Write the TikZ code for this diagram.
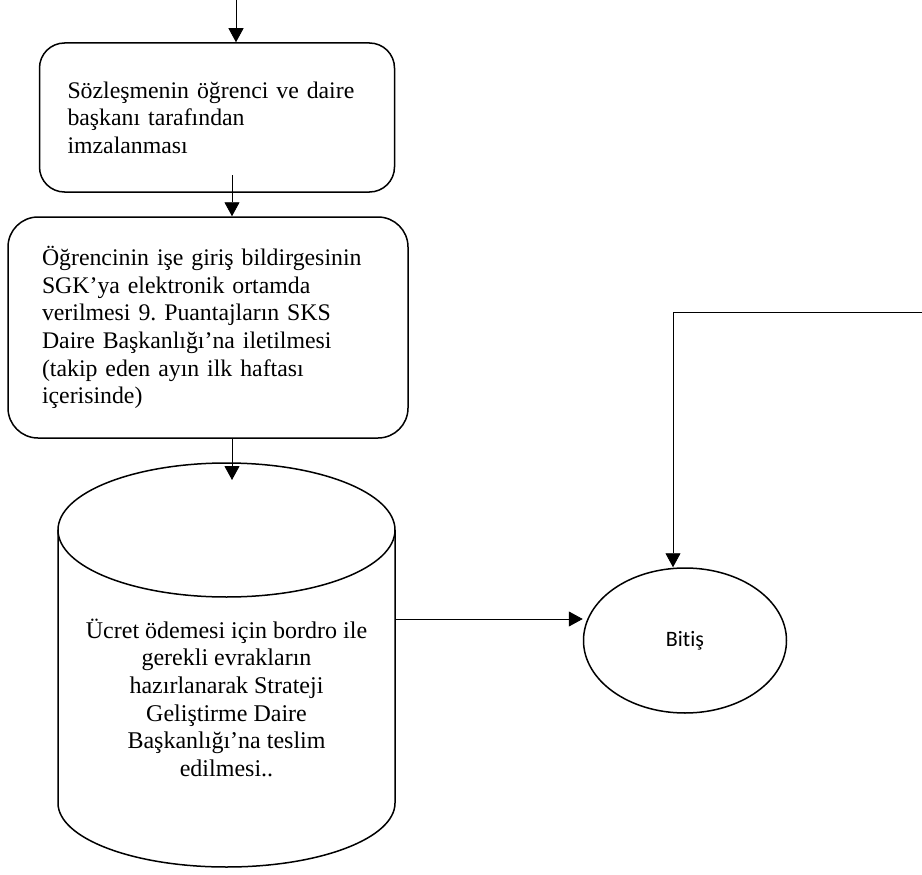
\documentclass[tikz,border=0pt]{standalone}
\usepackage{fontspec}
\setmainfont{Liberation Serif}
\newfontfamily\calib[Ligatures={NoCommon,NoRequired,NoContextual}]{Carlito}
\usetikzlibrary{shapes.geometric,arrows.meta}
\frenchspacing
\begin{document}
\begin{tikzpicture}[x=1pt,y=-1pt,
  procbox/.style={draw,line width=1.5pt,align=left,inner sep=0pt,
    font=\fontsize{23.8}{27.6}\selectfont},
  arr/.style={line width=0.9pt,-{Triangle[length=14pt,width=15pt]}},
  outline/.style={line width=1.5pt},
  endnode/.style={draw,ellipse,line width=1.5pt,inner sep=0pt,
    minimum width=203pt,minimum height=145pt,font=\calib\fontsize{22}{26}\selectfont},
  cyltext/.style={align=center,inner sep=0pt,font=\fontsize{24}{27.6}\selectfont}]
\useasboundingbox (0,0) rectangle (922,875);

\node[procbox,rounded corners=25pt,minimum width=355pt,minimum height=149pt,text width=299pt]
  (b1) at (217,117.5) {Sözleşmenin öğrenci ve daire\\başkanı tarafından\\imzalanması};

\node[procbox,rounded corners=30pt,minimum width=400pt,minimum height=221pt,text width=332pt]
  (b2) at (208,327.5) {Öğrencinin işe giriş bildirgesinin\\SGK’ya elektronik ortamda\\verilmesi 9. Puantajların SKS\\Daire Başkanlığı’na iletilmesi\\(takip eden ayın ilk haftası\\içerisinde)};

% cylinder
\draw[outline] (226.5,530) ellipse [x radius=168.5, y radius=67];
\draw[outline] (58,530) -- (58,803) arc[start angle=180, end angle=0, x radius=168.5, y radius=64] -- (395,530);
\node[cyltext] (cyl) at (226.5,697.8) {Ücret ödemesi için bordro ile\\gerekli evrakların\\hazırlanarak Strateji\\Geliştirme Daire\\Başkanlığı’na teslim\\edilmesi..};

\node[endnode] (bitis) at (685,640.5) {Bitiş};

\coordinate (start) at (236,0);
\coordinate (a2) at (232,175);
\coordinate (a3) at (232,480);
\coordinate (cylR) at (395,619);
\coordinate (e5) at (922,312);
\coordinate (j) at (673,312);

\draw[arr] (start) -- (start |- b1.north);
\draw[arr] (a2) -- (a2 |- b2.north);
\draw[arr] (a2 |- b2.south) -- (a3);
\draw[arr] (cylR) -- (cylR -| bitis.west);
\draw[arr] (e5) -- (j) -- (j |- bitis.north);
\end{tikzpicture}
\end{document}
